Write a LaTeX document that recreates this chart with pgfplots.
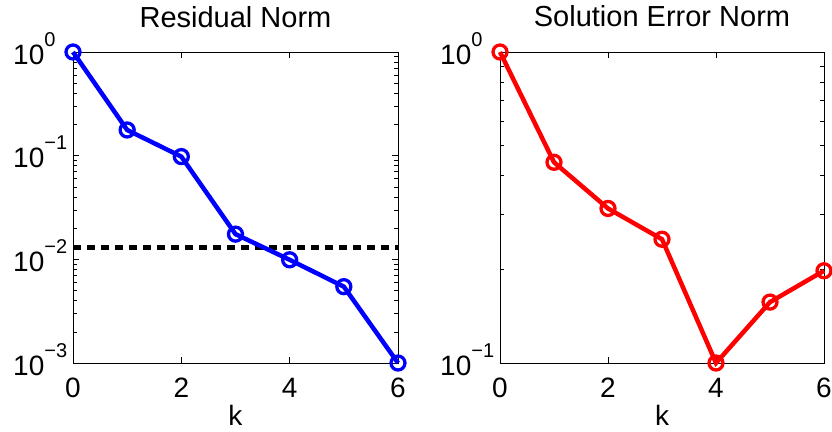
\documentclass[border=0pt]{standalone}
\usepackage{fontspec}
\setmainfont{Liberation Sans}
\usepackage{pgfplots}
\pgfplotsset{compat=1.18}

% "10" with a raised exponent that does not change the label height
\newcommand{\ex}[1]{10\smash{\raisebox{18bp}{\fontsize{20bp}{20bp}\selectfont #1}}}

\pgfplotsset{
  matstyle/.style={
    scale only axis,
    width=325bp, height=311bp,
    xmin=0, xmax=6,
    xtick={0,2,4,6},
    xticklabels={0,2,4,6},
    minor x tick num=0,
    tick align=inside,
    major tick length=6bp,
    minor tick length=4bp,
    axis line style={line width=0.8bp},
    every tick/.style={black, line width=0.6bp},
    clip=false,
    tick label style={font=\fontsize{28bp}{32bp}\selectfont, inner sep=0pt},
    xticklabel style={anchor=base, yshift=-34bp},
    yticklabel style={anchor=west, xshift=-60bp, yshift=-2.5bp},
    every axis title/.style={font=\fontsize{29bp}{32bp}\selectfont,
        at={(0.5,1)}, anchor=base, yshift=25bp, inner sep=0pt},
    every axis x label/.style={font=\fontsize{28bp}{32bp}\selectfont,
        at={(0.5,0)}, anchor=base, yshift=-62bp, inner sep=0pt},
    xlabel={k},
  },
  matline/.style={line width=4.5bp, mark=o, mark size=7bp,
    mark options={line width=3.3bp, solid}},
}

\begin{document}
\begin{tikzpicture}
\begin{semilogyaxis}[
    matstyle,
    at={(0,0)},
    title={Residual Norm},
    ymin=1e-3, ymax=1,
    ytick={1e-3,1e-2,1e-1,1},
    yticklabels={\ex{−3},\ex{−2},\ex{−1},\ex{0}},
    minor ytick={0.002,0.003,0.004,0.005,0.006,0.007,0.008,0.009,
                 0.02,0.03,0.04,0.05,0.06,0.07,0.08,0.09,
                 0.2,0.3,0.4,0.5,0.6,0.7,0.8,0.9},
]
\addplot[black, line width=4.5bp, dash pattern=on 8bp off 6bp] coordinates {
    (0,0.013)(6,0.013)};
\addplot[blue, matline] coordinates {
    (0,1.0)(1,0.177)(2,0.098)(3,0.0175)(4,0.0099)(5,0.00545)(6,0.001)};
\end{semilogyaxis}

\begin{semilogyaxis}[
    matstyle,
    at={(427bp,0)},
    width=324bp,
    title={Solution Error Norm},
    ymin=0.1, ymax=1,
    ytick={0.1,1},
    yticklabels={\ex{−1},\ex{0}},
    minor ytick={0.2,0.3,0.4,0.5,0.6,0.7,0.8,0.9},
]
\addplot[red, matline] coordinates {
    (0,1.0)(1,0.442)(2,0.314)(3,0.250)(4,0.1)(5,0.157)(6,0.198)};
\end{semilogyaxis}

\pgfresetboundingbox
\path[use as bounding box] (-73bp,-69bp) rectangle (759bp,363bp);
\end{tikzpicture}
\end{document}
